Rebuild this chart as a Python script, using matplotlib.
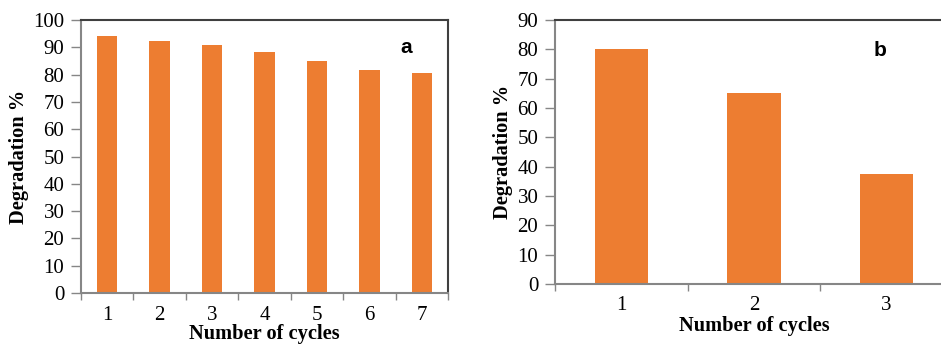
import matplotlib
matplotlib.use("Agg")
import matplotlib.pyplot as plt
import numpy as np

cycles_a = ["1", "2", "3", "4", "5", "6", "7"]
degradation_a = [94.0, 92.4, 90.8, 88.2, 85.0, 81.6, 80.7]
cycles_b = ["1", "2", "3"]
degradation_b = [80.0, 65.0, 37.5]
yticks_a = list(range(0, 101, 10))
yticks_b = list(range(0, 91, 10))

W, H = 941, 344
fig = plt.figure(figsize=(W / 100, H / 100), dpi=100)

orange = "#ED7D31"
grey = "#868686"
dark = "#3F3F3F"
serif = "Liberation Serif"


def panel(ax, cats, vals, yt, ymax, width, letter, letter_xy):
    x = np.arange(len(cats))
    ax.bar(x, vals, width=width, color=orange, zorder=2)
    ax.set_xlim(-0.5, len(cats) - 0.5)
    ax.set_ylim(0, ymax)
    ax.set_yticks(yt)
    ax.set_yticklabels([str(v) for v in yt], fontfamily=serif, fontsize=15)
    ax.set_xticks(x)
    ax.set_xticklabels(cats, fontfamily=serif, fontsize=15)
    ax.tick_params(axis="x", length=0, pad=9)
    ax.tick_params(axis="y", length=7, width=1, color=grey, pad=5)
    # category boundary ticks
    ax.set_xticks(np.arange(len(cats) + 1) - 0.5, minor=True)
    ax.tick_params(axis="x", which="minor", length=5, width=1, color=grey, direction="out")
    for s in ["left", "bottom"]:
        ax.spines[s].set_color(grey)
        ax.spines[s].set_linewidth(1.5)
    for s in ["top", "right"]:
        ax.spines[s].set_color(dark)
        ax.spines[s].set_linewidth(1.5)
    ax.set_xlabel("Number of cycles", fontfamily=serif, fontweight="bold", fontsize=14.7, labelpad=0)
    ax.set_ylabel("Degradation %", fontfamily=serif, fontweight="bold", fontsize=14.7, labelpad=3)
    ax.text(letter_xy[0], letter_xy[1], letter, transform=ax.transAxes,
            fontfamily="Liberation Sans", fontweight="bold", fontsize=15,
            ha="center", va="center")


# left panel: x 81..448, y 20..293 (pixels from top)
ax1 = fig.add_axes([81 / W, 1 - 293 / H, (448 - 81) / W, (293 - 20) / H])
panel(ax1, cycles_a, degradation_a, yticks_a, 100, 0.39, "a", (0.887, 0.9))

# right panel: x 555..953, y 20..284
ax2 = fig.add_axes([555 / W, 1 - 284 / H, (953 - 555) / W, (284 - 20) / H])
panel(ax2, cycles_b, degradation_b, yticks_b, 90, 0.4, "b", (0.817, 0.885))

fig.savefig("out.png", dpi=100)
